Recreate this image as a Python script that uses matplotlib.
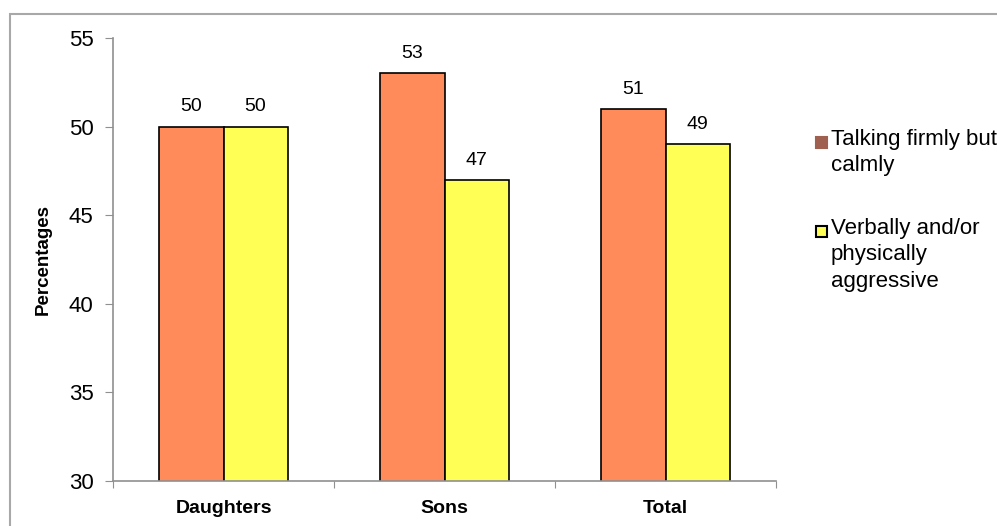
import numpy as np
import matplotlib.pyplot as plt
from matplotlib.patches import Rectangle

plt.rcParams['font.family'] = ['Liberation Sans', 'DejaVu Sans']

categories = ['Daughters', 'Sons', 'Total']
calm = [50, 53, 51]
aggressive = [50, 47, 49]
series_labels = ['Talking firmly but\ncalmly', 'Verbally and/or\nphysically\naggressive']
yticks = [30, 35, 40, 45, 50, 55]

W, H = 997, 526
fig = plt.figure(figsize=(W / 100, H / 100), dpi=100)
# grey frame around the whole chart area
fig.patches.append(Rectangle((10 / W, -0.05), 1.1, 1 - 14 / H + 0.05,
                             transform=fig.transFigure, fill=False,
                             edgecolor='#a8a8a8', linewidth=1.5))

ax = fig.add_axes([113 / W, 45 / H, 663 / W, 443 / H])

x = np.arange(len(categories))
width = 0.29
colors = ['#ff8a5a', '#ffff55']
b1 = ax.bar(x - width / 2, calm, width, color=colors[0], edgecolor='black', linewidth=1.2)
b2 = ax.bar(x + width / 2, aggressive, width, color=colors[1], edgecolor='black', linewidth=1.2)

for bars, vals in [(b1, calm), (b2, aggressive)]:
    for rect, v in zip(bars, vals):
        ax.annotate('%d' % v, (rect.get_x() + rect.get_width() / 2, v),
                    xytext=(0, 8), textcoords='offset points',
                    ha='center', va='bottom', fontsize=14)

ax.set_xlim(-0.5, len(categories) - 0.5)
ax.set_ylim(30, 55)
ax.set_yticks(yticks)
ax.tick_params(axis='y', labelsize=16, length=6, color='#909090', pad=8)

# category ticks sit between the groups
ax.set_xticks(np.arange(len(categories) + 1) - 0.5)
ax.set_xticklabels([])
ax.set_xticks(x, minor=True)
ax.set_xticklabels(categories, minor=True, fontsize=14, fontweight='bold')
ax.tick_params(axis='x', which='major', length=5, color='#909090')
ax.tick_params(axis='x', which='minor', length=0, pad=14)

for side in ['top', 'right']:
    ax.spines[side].set_visible(False)
for side in ['left', 'bottom']:
    ax.spines[side].set_color('#909090')
    ax.spines[side].set_linewidth(1.2)

ax.set_ylabel('Percentages', fontsize=13.5, fontweight='bold', labelpad=12)

# legend: square marker level with the first line of each label
legend_faces = ['#a0604f', '#ffff55']
legend_edges = ['#a0604f', 'black']
legend_rows = [142, 231]
for lab, fc, ec, yy in zip(series_labels, legend_faces, legend_edges, legend_rows):
    fig.patches.append(Rectangle((816 / W, 1 - (yy + 6) / H), 11 / W, 11 / H,
                                 transform=fig.transFigure, facecolor=fc,
                                 edgecolor=ec, linewidth=1.5))
    fig.text(831 / W, 1 - (yy - 13) / H, lab, fontsize=16, va='top', ha='left',
             linespacing=1.33)

fig.savefig('out.png', dpi=100)
